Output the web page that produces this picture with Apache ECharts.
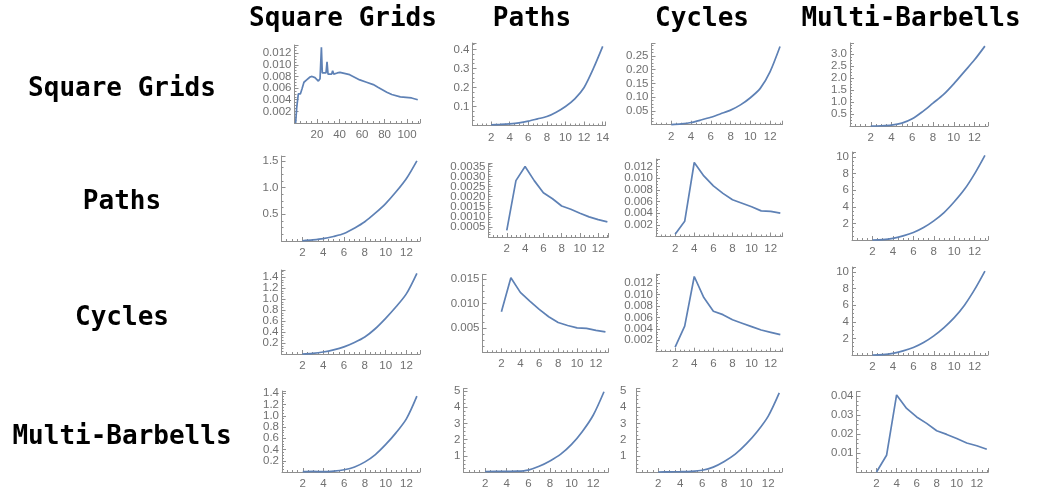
<!DOCTYPE html>
<html>
<head>
<meta charset="utf-8">
<script src="https://cdn.jsdelivr.net/npm/echarts@6/dist/echarts.min.js"></script>
<style>
  html, body { margin: 0; padding: 0; background: #fff; }
  #chart { width: 1037px; height: 490px; }
</style>
</head>
<body>
<div id="chart"></div>
<script>
// graph families (rows and columns use the same names)
const families = ["Square Grids", "Paths", "Cycles", "Multi-Barbells"];

// x values
const gridX = [1, 2, 3.4, 4.3, 5.2, 6.7, 8.4, 10.8, 13.8, 15.6, 18.2, 21.2, 22.7, 23.9, 24.7, 28, 28.9, 29.8, 33, 33.9, 34.8, 38, 40.4, 49, 58, 64, 70, 74.5, 82, 86.4, 94, 104, 109.5];
const sizes = [2, 3, 4, 5, 6, 7, 8, 9, 10, 11, 12, 13];
const pathSizes = [2, 3, 4, 5, 6, 7, 8, 9, 10, 11, 12, 13, 14];

// row "Square Grids"
const gridsGrids = [0, 0.0027, 0.005, 0.0053, 0.005, 0.0059, 0.007, 0.0074, 0.0079, 0.008, 0.0078, 0.0072, 0.0076, 0.013, 0.0086, 0.0086, 0.0105, 0.0084, 0.0084, 0.009, 0.0084, 0.0086, 0.0087, 0.0083, 0.0074, 0.007, 0.0066, 0.0061, 0.0053, 0.0049, 0.0045, 0.0043, 0.004];
const gridsPaths = [0.004, 0.006, 0.009, 0.014, 0.023, 0.035, 0.047, 0.07, 0.1, 0.14, 0.2, 0.3, 0.416];
const gridsCycles = [0, 0.003, 0.008, 0.017, 0.027, 0.04, 0.053, 0.072, 0.098, 0.132, 0.193, 0.284];
const gridsBarbells = [0, 0.01, 0.04, 0.12, 0.3, 0.6, 0.95, 1.3, 1.75, 2.25, 2.75, 3.32];

// row "Paths"
const pathsGrids = [0.005, 0.02, 0.043, 0.085, 0.14, 0.24, 0.36, 0.52, 0.7, 0.92, 1.17, 1.5];
const pathsPaths = [0.00033, 0.0028, 0.0035, 0.0028, 0.0022, 0.0019, 0.00154, 0.00138, 0.00118, 0.001, 0.00086, 0.00075];
const pathsCycles = [0.0004, 0.0026, 0.0127, 0.0104, 0.0087, 0.0074, 0.0063, 0.0057, 0.0051, 0.0044, 0.0043, 0.004];
const pathsBarbells = [0, 0.05, 0.2, 0.5, 0.9, 1.5, 2.3, 3.3, 4.6, 6.1, 8.0, 10.2];

// row "Cycles"
const cyclesGrids = [0, 0.012, 0.036, 0.075, 0.13, 0.21, 0.31, 0.46, 0.65, 0.86, 1.1, 1.47];
const cyclesPaths = [0.0083, 0.0153, 0.0123, 0.0105, 0.0088, 0.0073, 0.0061, 0.0055, 0.005, 0.0049, 0.0045, 0.0042];
const cyclesCycles = [0.0008, 0.0045, 0.0132, 0.0095, 0.0071, 0.0065, 0.0056, 0.005, 0.0044, 0.0038, 0.0034, 0.003];
const cyclesBarbells = [0, 0.05, 0.2, 0.5, 0.9, 1.5, 2.3, 3.3, 4.5, 6.0, 7.9, 10.1];

// row "Multi-Barbells"
const barbellsGrids = [0.005, 0.01, 0.005, 0.015, 0.04, 0.09, 0.18, 0.31, 0.49, 0.7, 0.95, 1.35];
const barbellsPaths = [0.03, 0.04, 0.04, 0.05, 0.12, 0.35, 0.68, 1.1, 1.7, 2.5, 3.5, 4.95];
const barbellsCycles = [0, 0.01, 0.02, 0.04, 0.11, 0.3, 0.65, 1.1, 1.73, 2.5, 3.45, 4.88];
const barbellsBarbells = [0, 0.0088, 0.0406, 0.0335, 0.029, 0.0256, 0.0217, 0.0198, 0.0176, 0.0153, 0.0138, 0.012];

// panel layout: box = [left, top, right, bottom] in px
const panels = [
  { x: gridX, y: gridsGrids, box: [294.5, 45, 420, 123], xMax: 111.5, xStep: 20, yMax: 0.0134, yStep: 0.002, dec: 3 },
  { x: pathSizes, y: gridsPaths, box: [472.5, 43, 605.5, 125.5], xMax: 14.3, xStep: 2, yMax: 0.434, yStep: 0.1, dec: 1, smooth: 0.25 },
  { x: sizes, y: gridsCycles, box: [651.5, 43.5, 782.5, 124.7], xMax: 13.25, xStep: 2, yMax: 0.295, yStep: 0.05, dec: 2, smooth: 0.25 },
  { x: sizes, y: gridsBarbells, box: [850, 43, 988, 126], xMax: 13.3, xStep: 2, yMax: 3.45, yStep: 0.5, dec: 1, smooth: 0.3 },

  { x: sizes, y: pathsGrids, box: [281.5, 156, 420, 241], xMax: 13.3, xStep: 2, yMax: 1.59, yStep: 0.5, dec: 1, smooth: 0.3 },
  { x: sizes, y: pathsPaths, box: [488.5, 163.5, 608.3, 237], xMax: 13.1, xStep: 2, yMax: 0.00365, yStep: 0.0005, dec: 4 },
  { x: sizes, y: pathsCycles, box: [656, 159, 782.7, 236.5], xMax: 13.25, xStep: 2, yMax: 0.0133, yStep: 0.002, dec: 3 },
  { x: sizes, y: pathsBarbells, box: [852, 152, 988, 240], xMax: 13.3, xStep: 2, yMax: 10.6, yStep: 2, dec: 0, smooth: 0.3 },

  { x: sizes, y: cyclesGrids, box: [281.5, 270, 420, 354], xMax: 13.3, xStep: 2, yMax: 1.53, yStep: 0.2, dec: 1, smooth: 0.3 },
  { x: sizes, y: cyclesPaths, box: [482.5, 274.3, 608.3, 352.3], xMax: 13.3, xStep: 2, yMax: 0.016, yStep: 0.005, dec: 3 },
  { x: sizes, y: cyclesCycles, box: [656, 274.2, 782.7, 351.7], xMax: 13.25, xStep: 2, yMax: 0.0136, yStep: 0.002, dec: 3 },
  { x: sizes, y: cyclesBarbells, box: [852, 267, 988, 355], xMax: 13.3, xStep: 2, yMax: 10.6, yStep: 2, dec: 0, smooth: 0.3 },

  { x: sizes, y: barbellsGrids, box: [282, 391, 420, 477], xMax: 13.3, xStep: 2, yMax: 1.44, yStep: 0.2, dec: 1, smooth: 0.3 },
  { x: sizes, y: barbellsPaths, box: [463.5, 388.5, 608.3, 478.7], xMax: 13.4, xStep: 2, yMax: 5.15, yStep: 1, dec: 0, smooth: 0.3 },
  { x: sizes, y: barbellsCycles, box: [636.3, 388.5, 782, 478.7], xMax: 13.25, xStep: 2, yMax: 5.15, yStep: 1, dec: 0, yOffset: 7, smooth: 0.3 },
  { x: sizes, y: barbellsBarbells, box: [856.5, 391.7, 988.3, 472], xMax: 13.15, xStep: 2, yMax: 0.0423, yStep: 0.01, dec: 2 }
];

const colCenters = [343, 532, 702, 911];
const rowCenters = [89, 202, 318, 437];

const axisColor = "#8f8f8f";
const labelStyle = { color: "#707070", fontSize: 11.5, fontFamily: "Liberation Sans, Arial, sans-serif" };

function tickFormatter(step, dec) {
  return function (v) {
    const k = v / step;
    if (v <= 0 || Math.abs(k - Math.round(k)) > 1e-6) return "";
    return v.toFixed(dec);
  };
}

const grids = [], xAxes = [], yAxes = [], series = [];
panels.forEach((p, i) => {
  const [l, t, r, b] = p.box;
  grids.push({ left: l, top: t, width: r - l, height: b - t, containLabel: false });
  xAxes.push({
    gridIndex: i, type: "value", min: 0, max: p.xMax, interval: p.xStep,
    axisLine: { onZero: false, lineStyle: { color: axisColor, width: 1 } },
    axisTick: { inside: true, length: 4, lineStyle: { color: axisColor } },
    minorTick: { show: true, splitNumber: 4, length: 2, lineStyle: { color: axisColor } },
    splitLine: { show: false },
    axisLabel: Object.assign({ margin: 6, formatter: tickFormatter(p.xStep, 0) }, labelStyle)
  });
  yAxes.push({
    gridIndex: i, type: "value", min: 0, max: p.yMax, interval: p.yStep,
    offset: p.yOffset || 0,
    axisLine: { show: true, lineStyle: { color: axisColor, width: 1 } },
    axisTick: { show: true, inside: true, length: 4, lineStyle: { color: axisColor } },
    minorTick: { show: true, splitNumber: 4, length: 2, lineStyle: { color: axisColor } },
    splitLine: { show: false },
    axisLabel: Object.assign({ margin: 3, formatter: tickFormatter(p.yStep, p.dec) }, labelStyle)
  });
  series.push({
    type: "line", xAxisIndex: i, yAxisIndex: i,
    data: p.x.map((xv, j) => [xv, p.y[j]]),
    showSymbol: false, clip: false,
    smooth: p.smooth || false,
    lineStyle: { color: "#5E81B5", width: 1.7 }
  });
});

const titleFont = 'bold 26px "DejaVu Sans Mono", monospace';
const graphic = [];
families.forEach((name, k) => {
  graphic.push({ type: "text", x: colCenters[k], y: 19,
    style: { text: name, font: titleFont, fill: "#000", align: "center", verticalAlign: "middle" } });
  graphic.push({ type: "text", x: 122, y: rowCenters[k],
    style: { text: name, font: titleFont, fill: "#000", align: "center", verticalAlign: "middle" } });
});

const myChart = echarts.init(document.getElementById("chart"), null, { renderer: "canvas" });
myChart.setOption({
  animation: false,
  backgroundColor: "#fff",
  grid: grids,
  xAxis: xAxes,
  yAxis: yAxes,
  series: series,
  graphic: graphic
});
</script>
</body>
</html>
